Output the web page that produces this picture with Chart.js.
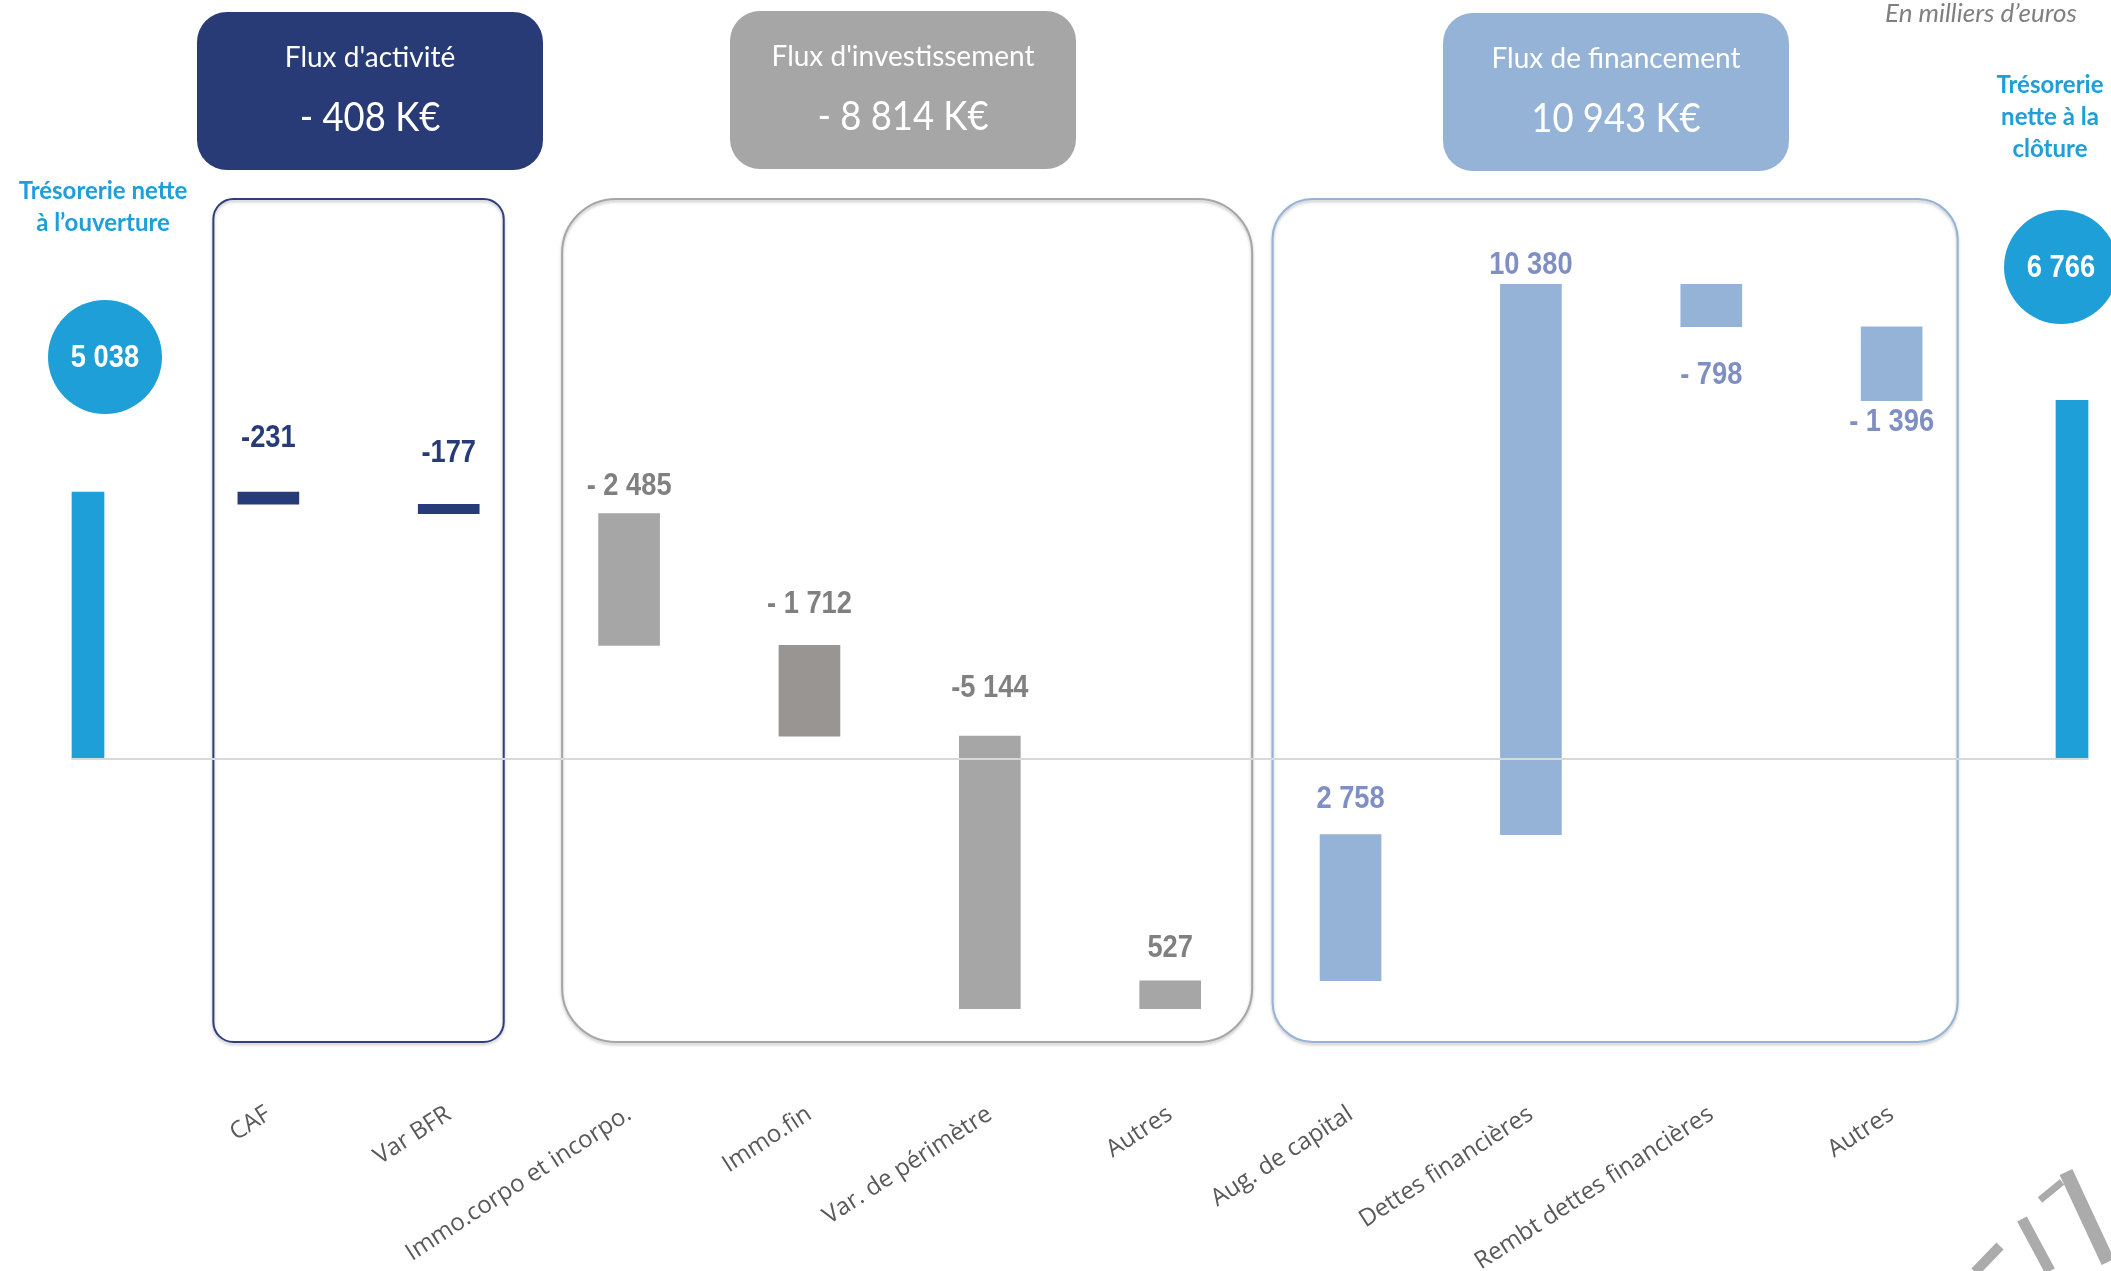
<!DOCTYPE html>
<html lang="fr">
<head>
<meta charset="utf-8">
<title>Flux de trésorerie</title>
<script src="https://cdn.jsdelivr.net/npm/chart.js@4.4.1/dist/chart.umd.min.js"></script>
<style>
  html, body { margin: 0; padding: 0; background: #fff; }
  #wrap { width: 2111px; height: 1271px; }
</style>
</head>
<body>
<div id="wrap"><canvas id="flux" width="2111" height="1271"></canvas></div>
<script>
// --- data (K€) ---
const categories = ['Trésorerie nette à l’ouverture', 'CAF', 'Var BFR', 'Immo.corpo et incorpo.', 'Immo.fin',
  'Var. de périmètre', 'Autres', 'Aug. de capital', 'Dettes financières', 'Rembt dettes financières', 'Autres',
  'Trésorerie nette à la clôture'];
const openingCash = 5038;
const closingCash = 6766;
const flows = [-231, -177, -2485, -1712, -5144, 527, 2758, 10380, -798, -1396];
const flowLabels = ['-231', '-177', '- 2 485', '- 1 712', '-5 144', '527', '2 758', '10 380', '- 798', '- 1 396'];
const groupNames = ["Flux d'activité", "Flux d'investissement", 'Flux de financement'];
const groupTotals = ['- 408 K€', '- 8 814 K€', '10 943 K€'];
const groupRanges = [[1, 2], [3, 6], [7, 10]];
const openingCaption = ['Trésorerie nette', 'à l’ouverture'];
const closingCaption = ['Trésorerie', 'nette à la', 'clôture'];
const cashLabels = ['5 038', '6 766'];
const unitNote = 'En milliers d’euros';

// --- build the waterfall from the values ---
const last = categories.length - 1;
const totals = categories.map((c, i) => i === 0 ? openingCash : (i === last ? closingCash : null));
let running = openingCash;
const steps = [null];
flows.forEach(v => { steps.push([running, running + v]); running += v; });
steps.push(null);

// --- styles ---
const CYAN = '#1E9FD7';
const NAVY = '#263B77';
const GREY = '#A6A6A6';
const LIGHTBLUE = '#95B3D7';
const barColors = [null, NAVY, NAVY, GREY, '#999593', GREY, GREY, LIGHTBLUE, LIGHTBLUE, LIGHTBLUE, LIGHTBLUE, null];
const labelColors = ['#263B77', '#808080', '#7F8FC4'];
const groupStroke = ['#2F3F7E', '#A6A6A6', '#95B3D7'];
const groupFill = ['#283B76', '#A6A6A6', '#95B3D7'];
const groupRadius = [20, 54, 40];
const groupPad = [[55, 55], [67, 82], [78, 66]];
const headerLeft = [197, 730, 1443];
const headerTop = [12, 11, 13];
// label distance from bar: negative = above top, positive = below bottom
const labelShift = [-54, -51, -27, -41, -48, -32, -35, -19, 49, 22];
const valueFont = "bold 31px 'Liberation Sans', Arial, sans-serif";

function groupOf(i) {
  return groupRanges.findIndex(r => i >= r[0] && i <= r[1]);
}

function rrect(ctx, x, y, w, h, r) {
  ctx.beginPath();
  ctx.moveTo(x + r, y);
  ctx.arcTo(x + w, y, x + w, y + h, r);
  ctx.arcTo(x + w, y + h, x, y + h, r);
  ctx.arcTo(x, y + h, x, y, r);
  ctx.arcTo(x, y, x + w, y, r);
  ctx.closePath();
}

// condensed text: squeeze horizontally around the anchor
function narrowText(ctx, txt, x, y, sx) {
  ctx.save();
  ctx.translate(x, y);
  ctx.scale(sx, 1);
  ctx.fillText(txt, 0, 0);
  ctx.restore();
}

const groupBoxes = {
  id: 'groupBoxes',
  beforeDatasetsDraw(chart) {
    const { ctx, scales: { x } } = chart;
    ctx.save();
    groupRanges.forEach((r, g) => {
      const left = x.getPixelForValue(r[0]) - groupPad[g][0];
      const right = x.getPixelForValue(r[1]) + groupPad[g][1];
      ctx.shadowColor = 'rgba(0,0,0,0.25)';
      ctx.shadowBlur = 3;
      ctx.shadowOffsetY = 2;
      ctx.strokeStyle = groupStroke[g];
      ctx.lineWidth = 2;
      rrect(ctx, left, 199, right - left, 843, groupRadius[g]);
      ctx.stroke();
    });
    ctx.restore();
  }
};

const flowText = {
  id: 'flowText',
  afterDatasetsDraw(chart) {
    const { ctx, scales: { x, y } } = chart;
    // zero line, drawn over the bars
    ctx.save();
    ctx.strokeStyle = '#D9D9D9';
    ctx.lineWidth = 2;
    ctx.beginPath();
    ctx.moveTo(x.getPixelForValue(0) - 16, y.getPixelForValue(0));
    ctx.lineTo(x.getPixelForValue(last) + 16, y.getPixelForValue(0));
    ctx.stroke();

    ctx.font = valueFont;
    ctx.textAlign = 'center';
    ctx.textBaseline = 'middle';
    chart.getDatasetMeta(1).data.forEach((bar, i) => {
      if (!steps[i]) return;
      const k = i - 1;
      const top = Math.min(bar.y, bar.base);
      const bottom = Math.max(bar.y, bar.base);
      const ty = labelShift[k] < 0 ? top + labelShift[k] : bottom + labelShift[k];
      ctx.fillStyle = labelColors[groupOf(i)];
      narrowText(ctx, flowLabels[k], bar.x, ty, 0.88);
    });
    ctx.restore();
  }
};

const decor = {
  id: 'decor',
  afterDraw(chart) {
    const ctx = chart.ctx;
    ctx.save();
    ctx.textAlign = 'center';
    ctx.textBaseline = 'middle';

    // header boxes
    groupNames.forEach((name, g) => {
      ctx.fillStyle = groupFill[g];
      rrect(ctx, headerLeft[g], headerTop[g], 346, 158, 30);
      ctx.fill();
      ctx.fillStyle = '#FFFFFF';
      ctx.font = "28px Lato, 'Open Sans', sans-serif";
      ctx.fillText(name, headerLeft[g] + 173, headerTop[g] + 46);
      ctx.font = "40px Lato, 'Open Sans', sans-serif";
      narrowText(ctx, groupTotals[g], headerLeft[g] + 173, headerTop[g] + 106, 0.91);
    });

    // captions
    ctx.fillStyle = CYAN;
    ctx.font = "bold 24px Lato, 'Open Sans', sans-serif";
    openingCaption.forEach((t, j) => ctx.fillText(t, 103, 191 + j * 32));
    closingCaption.forEach((t, j) => ctx.fillText(t, 2050, 85 + j * 32));

    // circles with cash positions
    const circles = [[105, 357], [2061, 267]];
    circles.forEach(([cx, cy], j) => {
      ctx.fillStyle = CYAN;
      ctx.beginPath();
      ctx.arc(cx, cy, 57, 0, Math.PI * 2);
      ctx.fill();
      ctx.fillStyle = '#FFFFFF';
      ctx.font = valueFont;
      narrowText(ctx, cashLabels[j], cx, cy + 1, 0.88);
    });

    // unit note
    ctx.fillStyle = '#7F7F7F';
    ctx.font = "italic 26px Lato, 'Open Sans', sans-serif";
    ctx.textAlign = 'right';
    ctx.fillText(unitNote, 2077, 14);

    // partial logo, bottom right
    ctx.strokeStyle = '#ABABAB';
    ctx.lineCap = 'butt';
    [[1975, 1272, 2000, 1246, 10], [2022, 1219, 2050, 1271, 11], [2040, 1200, 2062, 1182, 7],
     [2066, 1172, 2108, 1262, 14]].forEach(([x1, y1, x2, y2, w]) => {
      ctx.lineWidth = w;
      ctx.beginPath();
      ctx.moveTo(x1, y1);
      ctx.lineTo(x2, y2);
      ctx.stroke();
    });
    ctx.restore();
  }
};

new Chart(document.getElementById('flux'), {
  type: 'bar',
  data: {
    labels: categories,
    datasets: [
      { label: 'Trésorerie nette', data: totals, backgroundColor: CYAN, barThickness: 32, grouped: false, clip: false },
      { label: 'Flux', data: steps, backgroundColor: barColors, barThickness: 61, grouped: false, clip: false }
    ]
  },
  options: {
    responsive: false,
    animation: false,
    layout: { padding: { left: 88, right: 39, top: 200, bottom: 0 } },
    plugins: { legend: { display: false }, tooltip: { enabled: false } },
    scales: {
      x: {
        offset: false,
        grid: { display: false, drawTicks: false },
        border: { display: false },
        ticks: {
          autoSkip: false,
          minRotation: 33,
          maxRotation: 33,
          padding: 0,
          color: '#595959',
          font: { family: "'Open Sans'", size: 24 },
          callback: (v, i) => (i === 0 || i === last) ? '' : categories[i]
        },
        afterFit: s => { s.height = 171; }
      },
      y: { display: false, min: -6434, max: 10547 }
    }
  },
  plugins: [groupBoxes, flowText, decor]
});
</script>
</body>
</html>
